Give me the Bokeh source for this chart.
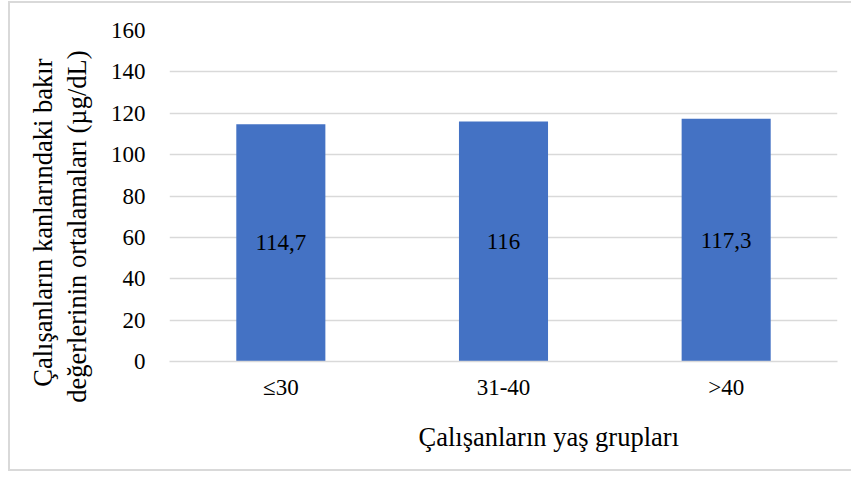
from bokeh.plotting import figure
from bokeh.models import ColumnDataSource, LabelSet, Title, FixedTicker
from bokeh.embed import file_html
from bokeh.resources import INLINE

categories = ["≤30", "31-40", ">40"]
means = [114.7, 116, 117.3]
value_labels = ["114,7", "116", "117,3"]
y_ticks = [0, 20, 40, 60, 80, 100, 120, 140, 160]
y_title_lines = ["Çalışanların kanlarındaki bakır", "değerlerinin ortalamaları (µg/dL)"]
x_title = "Çalışanların yaş grupları"

FONT = "Liberation Serif"
TICK_SIZE = "23px"
TITLE_SIZE = "26.5px"

src = ColumnDataSource(dict(
    cat=categories,
    val=means,
    lab=value_labels,
    mid=[v / 2 for v in means],
))

p = figure(x_range=categories, y_range=(0, 160), width=843, height=470,
           output_backend="svg", toolbar_location=None,
           min_border_left=159, min_border_right=16, min_border_top=27,
           min_border_bottom=112)
p.styles = {"border-left": "2px solid #d9d9d9", "border-top": "2px solid #d9d9d9",
            "border-bottom": "2px solid #d9d9d9",
            "margin-left": "8px", "margin-top": "1px"}
p.outline_line_color = None

p.vbar(x="cat", top="val", width=0.4, source=src, fill_color="#4472C4", line_color=None)

labels = LabelSet(x="cat", y="mid", text="lab", source=src, text_align="center",
                  text_baseline="middle", text_font=FONT, text_font_size=TICK_SIZE,
                  text_color="black")
p.add_layout(labels)

p.yaxis.ticker = FixedTicker(ticks=y_ticks)
p.yaxis.axis_line_color = None
p.yaxis.major_tick_line_color = None
p.yaxis.minor_tick_line_color = None
p.yaxis.major_label_text_font = FONT
p.yaxis.major_label_text_font_size = TICK_SIZE
p.yaxis.major_label_text_color = "black"
p.yaxis.major_label_standoff = 18
# blank spacer label to leave room between tick labels and the title lines
p.yaxis.axis_label = " "
p.yaxis.axis_label_text_font_size = "1px"
p.yaxis.axis_label_standoff = 11

p.xaxis.axis_line_color = "#d9d9d9"
p.xaxis.axis_line_width = 1.5
p.xaxis.major_tick_line_color = None
p.xaxis.minor_tick_line_color = None
p.xaxis.major_label_text_font = FONT
p.xaxis.major_label_text_font_size = TICK_SIZE
p.xaxis.major_label_text_color = "black"
p.xaxis.major_label_standoff = 7

p.ygrid.grid_line_color = "#d9d9d9"
p.ygrid.grid_line_width = 1.5
p.xgrid.grid_line_color = None

# y-axis title: two lines, inner line added first (closest to the axis)
for line, off in ((y_title_lines[1], 20), (y_title_lines[0], 28)):
    t = Title(text=line, align="right", offset=off, text_font=FONT,
              text_font_size=TITLE_SIZE, text_font_style="normal",
              text_color="black", standoff=2)
    p.add_layout(t, "left")

xt = Title(text=x_title, align="left", offset=249,
           text_font=FONT, text_font_size=TITLE_SIZE, text_font_style="normal",
           text_color="black", standoff=34)
p.add_layout(xt, "below")

open("out.html", "w").write(file_html(p, INLINE))
